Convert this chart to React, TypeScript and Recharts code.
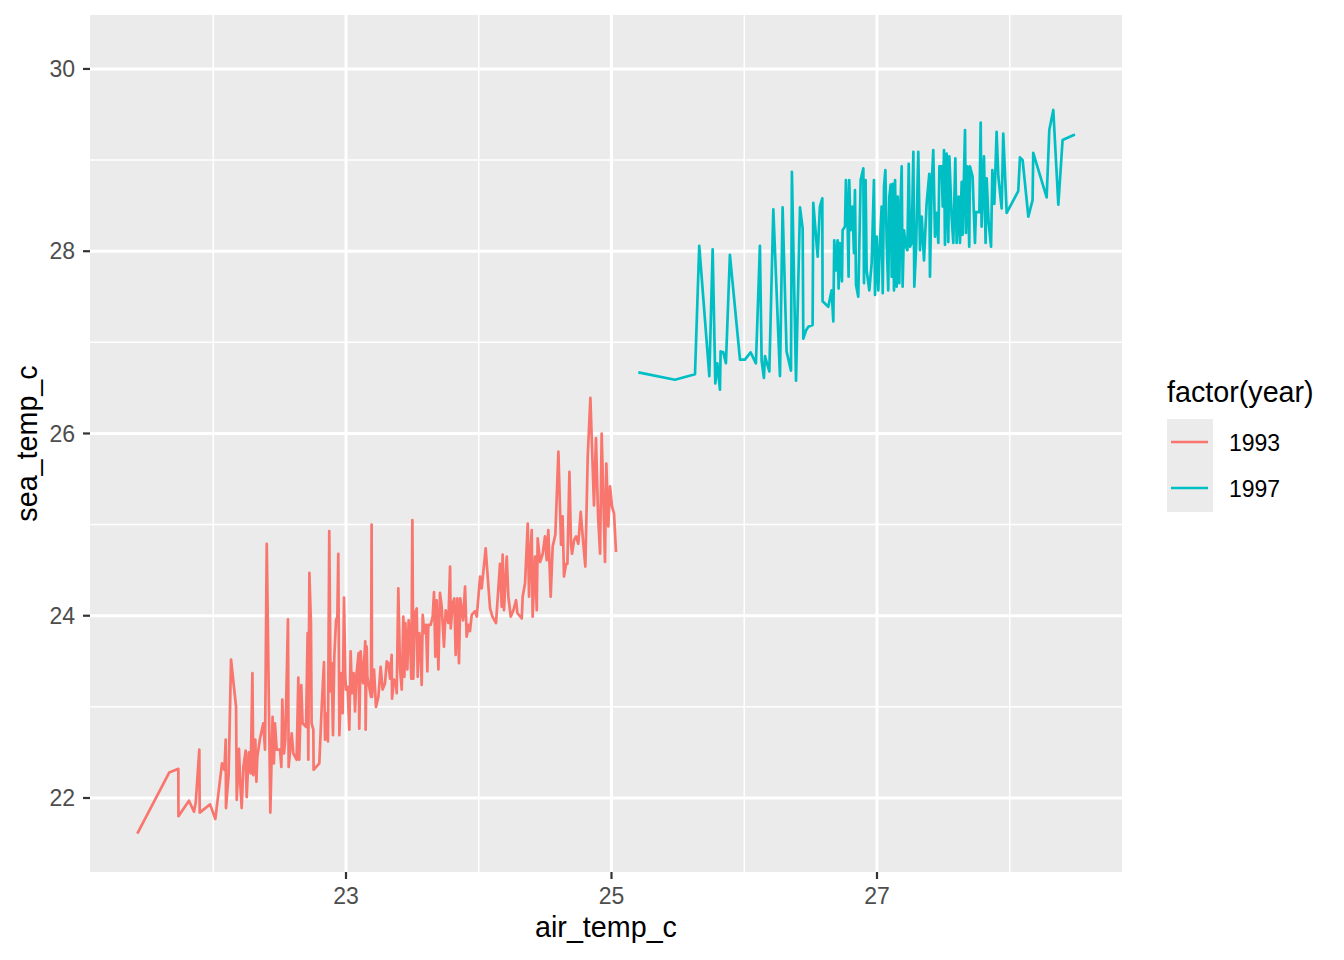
import { ComposedChart, Line, XAxis, YAxis, CartesianGrid } from 'recharts';

// air temperature (x) and sea temperature (y), sorted by x
const air1993 = [
  21.428, 21.669, 21.737, 21.738, 21.817, 21.855, 21.868, 21.895, 21.898, 21.976,
  22.016, 22.066, 22.084, 22.094, 22.096, 22.116, 22.134, 22.172, 22.177, 22.194,
  22.202, 22.214, 22.227, 22.244, 22.252, 22.267, 22.282, 22.295, 22.302, 22.317,
  22.325, 22.332, 22.352, 22.377, 22.390, 22.403, 22.430, 22.447, 22.457, 22.465,
  22.478, 22.503, 22.513, 22.520, 22.533, 22.543, 22.563, 22.568, 22.591, 22.603,
  22.628, 22.641, 22.648, 22.663, 22.673, 22.699, 22.711, 22.716, 22.724, 22.736,
  22.741, 22.754, 22.756, 22.774, 22.799, 22.817, 22.834, 22.842, 22.849, 22.864,
  22.874, 22.884, 22.892, 22.902, 22.912, 22.925, 22.935, 22.942, 22.950, 22.965,
  22.975, 22.985, 22.995, 23.000, 23.012, 23.025, 23.035, 23.045, 23.058, 23.068,
  23.080, 23.095, 23.100, 23.110, 23.128, 23.145, 23.148, 23.156, 23.161, 23.188,
  23.193, 23.196, 23.211, 23.226, 23.244, 23.261, 23.276, 23.294, 23.307, 23.319,
  23.332, 23.344, 23.347, 23.362, 23.377, 23.382, 23.394, 23.407, 23.420, 23.432,
  23.440, 23.447, 23.462, 23.472, 23.482, 23.492, 23.500, 23.507, 23.520, 23.533,
  23.540, 23.553, 23.563, 23.570, 23.578, 23.590, 23.603, 23.613, 23.620, 23.638,
  23.653, 23.663, 23.673, 23.683, 23.696, 23.708, 23.721, 23.738, 23.751, 23.771,
  23.784, 23.789, 23.804, 23.816, 23.826, 23.839, 23.851, 23.861, 23.882, 23.897,
  23.909, 23.924, 23.934, 23.947, 23.972, 23.985, 24.010, 24.022, 24.052, 24.085,
  24.103, 24.130, 24.160, 24.173, 24.180, 24.190, 24.211, 24.223, 24.241, 24.261,
  24.281, 24.291, 24.324, 24.331, 24.349, 24.369, 24.379, 24.386, 24.399, 24.406,
  24.424, 24.437, 24.444, 24.462, 24.482, 24.499, 24.512, 24.524, 24.542, 24.557,
  24.577, 24.600, 24.620, 24.632, 24.642, 24.658, 24.668, 24.683, 24.695, 24.703,
  24.718, 24.733, 24.750, 24.768, 24.783, 24.803, 24.821, 24.841, 24.868, 24.883,
  24.899, 24.914, 24.926, 24.951, 24.961, 24.976, 24.989, 25.004, 25.019, 25.034,
];
const sea1993 = [
  21.61, 22.28, 22.32, 21.80, 21.97, 21.85, 21.95, 22.53, 21.84, 21.93,
  21.77, 22.38, 22.31, 22.64, 21.89, 22.26, 23.52, 23.00, 21.98, 22.54,
  22.20, 21.89, 22.34, 22.52, 22.01, 22.50, 22.27, 23.37, 22.25, 22.64,
  22.18, 22.45, 22.65, 22.82, 22.53, 24.79, 21.84, 22.89, 22.38, 22.82,
  22.53, 22.53, 22.34, 23.08, 22.49, 22.64, 23.96, 22.34, 22.71, 22.49,
  22.42, 23.32, 22.42, 23.24, 22.82, 22.78, 23.81, 22.42, 24.47, 23.92,
  22.82, 22.75, 22.31, 22.34, 22.38, 23.00, 23.49, 22.64, 22.93, 22.62,
  24.93, 23.17, 23.48, 22.69, 23.55, 23.95, 23.99, 24.68, 22.69, 23.37,
  22.93, 24.20, 23.33, 23.19, 23.22, 22.75, 23.61, 23.15, 23.37, 22.95,
  23.37, 23.59, 22.76, 23.61, 23.26, 23.72, 22.75, 23.66, 23.33, 23.11,
  25.00, 23.11, 23.41, 23.00, 23.11, 23.44, 23.19, 23.26, 23.50, 23.48,
  23.31, 23.57, 23.09, 23.30, 23.26, 23.15, 24.30, 23.42, 23.19, 23.99,
  23.33, 23.92, 23.41, 23.95, 23.77, 23.31, 25.05, 23.31, 24.03, 24.08,
  23.33, 23.81, 23.62, 23.24, 24.01, 23.81, 23.90, 23.39, 23.90, 23.90,
  23.99, 24.26, 23.55, 24.17, 23.41, 24.25, 24.10, 23.66, 24.06, 23.92,
  24.54, 23.86, 24.14, 24.19, 23.57, 24.19, 23.48, 24.19, 23.95, 24.32,
  23.77, 23.90, 23.83, 24.01, 24.05, 23.99, 24.43, 24.30, 24.74, 24.08,
  23.99, 23.92, 24.57, 24.10, 24.67, 24.06, 24.65, 24.21, 23.99, 24.06,
  24.17, 24.03, 23.97, 24.21, 24.36, 25.01, 24.21, 24.61, 24.94, 23.99,
  24.65, 24.06, 24.85, 24.59, 24.68, 24.87, 24.61, 24.94, 24.21, 24.76,
  24.89, 25.80, 24.78, 25.09, 24.43, 24.57, 24.57, 25.58, 24.79, 24.68,
  24.83, 24.87, 24.79, 25.14, 24.87, 24.54, 25.75, 26.39, 25.21, 25.95,
  25.09, 24.68, 26.00, 24.59, 25.67, 24.98, 25.42, 25.20, 25.12, 24.70,
];

const air1997 = [
  25.202, 25.478, 25.629, 25.661, 25.737, 25.762, 25.782, 25.797, 25.817, 25.822,
  25.842, 25.862, 25.892, 25.968, 26.005, 26.048, 26.088, 26.118, 26.131, 26.148,
  26.156, 26.189, 26.219, 26.269, 26.289, 26.319, 26.352, 26.359, 26.390, 26.420,
  26.440, 26.445, 26.465, 26.482, 26.515, 26.520, 26.553, 26.570, 26.588, 26.590,
  26.633, 26.658, 26.671, 26.678, 26.691, 26.703, 26.711, 26.721, 26.736, 26.741,
  26.759, 26.766, 26.779, 26.786, 26.791, 26.801, 26.816, 26.826, 26.834, 26.842,
  26.859, 26.877, 26.897, 26.902, 26.914, 26.922, 26.942, 26.960, 26.977, 26.985,
  26.998, 27.010, 27.023, 27.035, 27.043, 27.053, 27.063, 27.073, 27.085, 27.093,
  27.103, 27.111, 27.118, 27.128, 27.136, 27.148, 27.156, 27.168, 27.178, 27.186,
  27.193, 27.203, 27.218, 27.229, 27.239, 27.249, 27.261, 27.274, 27.281, 27.294,
  27.311, 27.324, 27.337, 27.354, 27.374, 27.394, 27.399, 27.412, 27.424, 27.437,
  27.450, 27.462, 27.470, 27.487, 27.495, 27.505, 27.512, 27.525, 27.537, 27.545,
  27.562, 27.575, 27.590, 27.600, 27.615, 27.625, 27.638, 27.645, 27.663, 27.670,
  27.680, 27.695, 27.700, 27.720, 27.738, 27.745, 27.771, 27.781, 27.788, 27.806,
  27.818, 27.826, 27.841, 27.859, 27.869, 27.884, 27.901, 27.914, 27.939, 27.951,
  27.977, 28.064, 28.077, 28.097, 28.140, 28.172, 28.177, 28.278, 28.298, 28.328,
  28.366, 28.398, 28.491,
];
const sea1997 = [
  26.67, 26.59, 26.65, 28.06, 26.63, 28.02, 26.55, 26.77, 26.48, 26.90,
  26.89, 26.77, 27.96, 26.81, 26.81, 26.89, 26.77, 28.06, 26.80, 26.61,
  26.85, 26.68, 28.46, 26.63, 28.48, 26.90, 26.69, 28.87, 26.58, 28.48,
  28.25, 27.04, 27.13, 27.17, 27.19, 28.53, 27.94, 28.49, 28.58, 27.45,
  27.39, 27.57, 27.23, 28.12, 27.79, 28.12, 27.59, 28.09, 27.67, 28.23,
  28.27, 28.78, 28.27, 27.72, 28.78, 28.23, 28.49, 27.98, 28.67, 27.63,
  27.50, 28.78, 28.91, 27.65, 28.78, 27.79, 27.57, 27.87, 28.78, 27.52,
  28.16, 27.57, 28.12, 28.49, 27.54, 28.71, 28.89, 28.09, 27.57, 28.60,
  28.73, 27.72, 28.74, 27.57, 28.78, 27.61, 28.60, 27.65, 28.56, 28.93,
  27.61, 28.23, 28.05, 28.01, 28.96, 28.05, 28.09, 29.09, 27.61, 28.01,
  29.09, 28.01, 28.38, 27.90, 28.53, 28.85, 27.72, 28.74, 29.11, 28.16,
  28.42, 28.09, 28.93, 28.93, 28.49, 29.11, 28.07, 29.07, 28.10, 29.04,
  28.38, 28.09, 29.02, 28.09, 28.60, 28.09, 28.76, 28.18, 29.33, 28.20,
  28.93, 28.05, 28.93, 28.82, 28.09, 28.43, 28.43, 29.41, 28.27, 29.04,
  28.09, 28.80, 28.31, 28.05, 28.89, 28.52, 29.31, 28.82, 28.47, 29.29,
  28.42, 28.66, 29.03, 29.00, 28.38, 28.56, 29.08, 28.59, 29.33, 29.55,
  28.51, 29.22, 29.28,
];

const years = ['1993', '1997'];
const yearColors = ['#F8766D', '#00BFC4'];

const xTicks = [23, 25, 27];
const yTicks = [22, 24, 26, 28, 30];
const xMinor = [22, 24, 26, 28];
const yMinor = [23, 25, 27, 29];

const FONT = '"Liberation Sans", Arial, Helvetica, sans-serif';
const TITLE_SIZE = 28.7;
const TEXT_SIZE = 23;

const toRows = (xs: number[], ys: number[]) =>
  xs.map((x, i) => ({ air_temp_c: x, sea_temp_c: ys[i] }));

const seriesData = [toRows(air1993, sea1993), toRows(air1997, sea1997)];

const XTitle = (props: any) => {
  const vb = props.viewBox || { x: 90, y: 872, width: 1032, height: 88 };
  return (
    <text x={vb.x + vb.width / 2} y={vb.y + 65} textAnchor="middle" fontSize={TITLE_SIZE} fontFamily={FONT} fill="#000000">
      air_temp_c
    </text>
  );
};

const YTitle = (props: any) => {
  const vb = props.viewBox || { x: 0, y: 15, width: 90, height: 857 };
  const cx = vb.x + 37;
  const cy = vb.y + vb.height / 2;
  return (
    <text x={cx} y={cy} transform={`rotate(-90 ${cx} ${cy})`} textAnchor="middle" fontSize={TITLE_SIZE} fontFamily={FONT} fill="#000000">
      sea_temp_c
    </text>
  );
};

const LegendBox = () => (
  <svg width={194} height={160} style={{ position: 'absolute', left: 1150, top: 370 }}>
    <text x={17} y={32} fontSize={TITLE_SIZE} fontFamily={FONT} fill="#000000">factor(year)</text>
    <rect x={17} y={49} width={46} height={93} fill="#EBEBEB" />
    {years.map((year, i) => (
      <g key={year}>
        <line x1={21} x2={58} y1={72 + i * 46} y2={72 + i * 46} stroke={yearColors[i]} strokeWidth={2.7} />
        <text x={79} y={80.5 + i * 46} fontSize={TEXT_SIZE} fontFamily={FONT} fill="#000000">{year}</text>
      </g>
    ))}
  </svg>
);

export default function App() {
  return (
    <div style={{ position: 'absolute', left: 0, top: 0, width: 1344, height: 960, background: '#FFFFFF' }}>
      <ComposedChart width={1344} height={960} margin={{ top: 15, right: 222, bottom: 0, left: 0 }}>
        <CartesianGrid fill="#EBEBEB" stroke="#FFFFFF" strokeWidth={1.5} verticalValues={xMinor} horizontalValues={yMinor} />
        <CartesianGrid fill="none" stroke="#FFFFFF" strokeWidth={2.9} verticalValues={xTicks} horizontalValues={yTicks} />
        <XAxis
          dataKey="air_temp_c"
          type="number"
          domain={[21.0716, 28.8456]}
          allowDataOverflow
          ticks={xTicks}
          interval={0}
          height={88}
          tickSize={7}
          tickMargin={9}
          axisLine={false}
          tickLine={{ stroke: '#333333', strokeWidth: 2.2 }}
          tick={{ fill: '#4D4D4D', fontSize: TEXT_SIZE, fontFamily: FONT }}
          label={<XTitle />}
        />
        <YAxis
          dataKey="sea_temp_c"
          type="number"
          domain={[21.188, 30.592]}
          allowDataOverflow
          ticks={yTicks}
          interval={0}
          width={90}
          tickSize={7}
          tickMargin={8}
          axisLine={false}
          tickLine={{ stroke: '#333333', strokeWidth: 2.2 }}
          tick={{ fill: '#4D4D4D', fontSize: TEXT_SIZE, fontFamily: FONT }}
          label={<YTitle />}
        />
        {years.map((year, i) => (
          <Line
            key={year}
            data={seriesData[i]}
            dataKey="sea_temp_c"
            name={year}
            type="linear"
            stroke={yearColors[i]}
            strokeWidth={2.7}
            strokeLinejoin="round"
            dot={false}
            activeDot={false}
            isAnimationActive={false}
          />
        ))}
      </ComposedChart>
      <LegendBox />
    </div>
  );
}
